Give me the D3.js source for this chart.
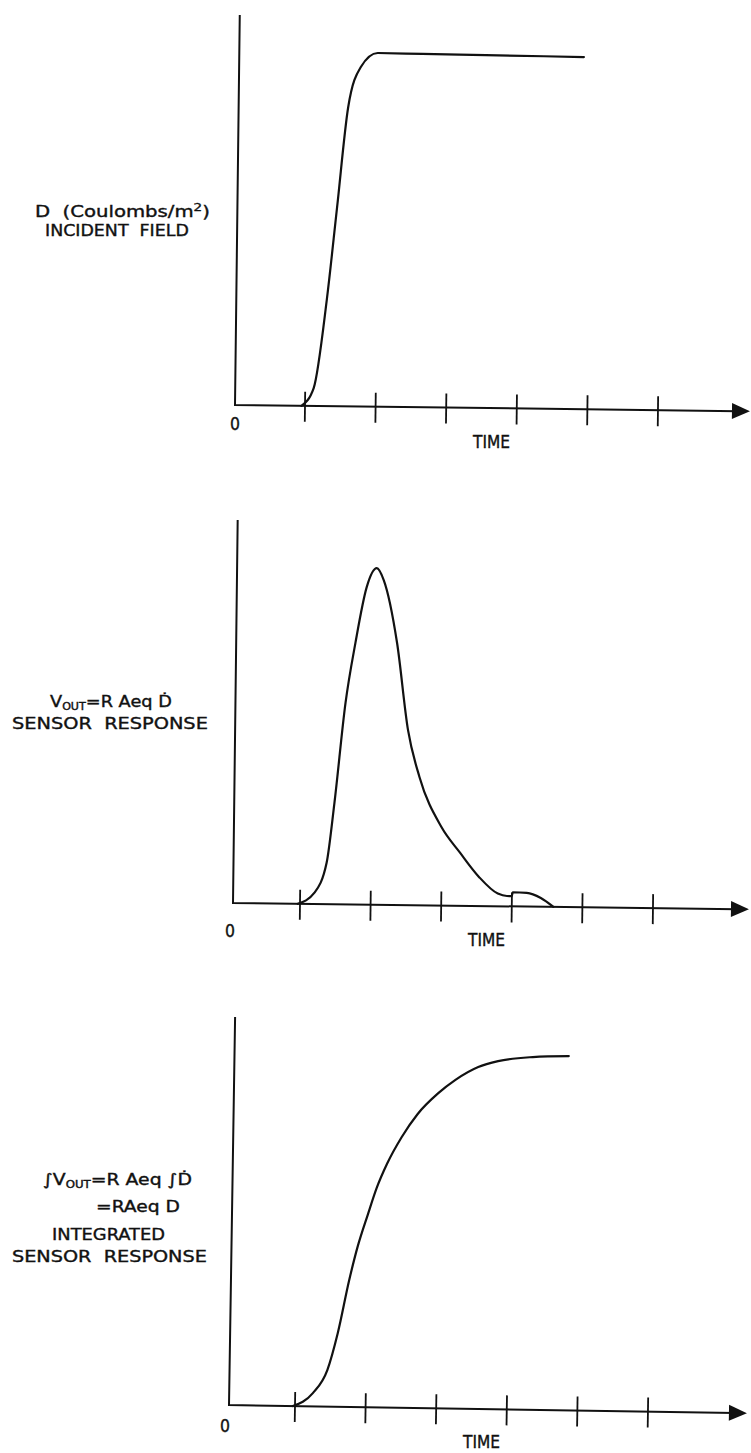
<!DOCTYPE html>
<html>
<head>
  <meta charset="utf-8"/>
  <title>Incident field and sensor response</title>
  <script src="https://d3js.org/d3.v7.min.js"></script>
  <style>
    html, body {
      margin: 0;
      padding: 0;
      background: #fff;
    }
    svg {
      display: block;
    }
    .lbl {
      font-family: "Liberation Sans Narrow", "DejaVu Sans Condensed", "Liberation Sans", sans-serif;
      fill: #111;
      stroke: #111;
      stroke-width: 0.35;
      white-space: pre;
    }
    .axis-line {
      stroke: #111;
      stroke-width: 2;
      fill: none;
    }
    .tick {
      stroke: #111;
      stroke-width: 1.8;
    }
    .curve {
      stroke: #111;
      stroke-width: 2.2;
      fill: none;
      stroke-linejoin: round;
      stroke-linecap: round;
    }
  </style>
</head>
<body>
  <div id="chart"></div>

  <script>
    // time axis ticks (unit steps, no numbers printed except the origin)
    const tickTimes = [1, 2, 3, 4, 5, 6];

    // [time, relative amplitude], 1 = top of the y axis
    const incidentField = [
      [0.95, 0], [1.12, 0.046], [1.29, 0.272], [1.42, 0.51], [1.56, 0.767],
      [1.73, 0.87], [1.97, 0.907], [2.6, 0.906], [3.5, 0.905], [4.89, 0.903]
    ];

    const sensorResponse = [
      [0.97, 0], [1.2, 0.029], [1.37, 0.108], [1.47, 0.264], [1.61, 0.526],
      [1.74, 0.683], [1.89, 0.829], [2.03, 0.879], [2.13, 0.848], [2.33, 0.684],
      [2.5, 0.457], [2.67, 0.335], [2.99, 0.205], [3.26, 0.138], [3.53, 0.076],
      [3.8, 0.033], [3.93, 0.027], [4.0, 0.027], [4.01, 0.037], [4.21, 0.036],
      [4.41, 0.023], [4.59, 0]
    ];

    const integratedResponse = [
      [0.97, 0], [1.25, 0.034], [1.45, 0.094], [1.59, 0.19], [1.74, 0.327],
      [1.85, 0.412], [1.99, 0.497], [2.11, 0.566], [2.25, 0.628], [2.45, 0.697],
      [2.67, 0.757], [2.96, 0.812], [3.2, 0.847], [3.52, 0.881], [3.8, 0.897],
      [4.29, 0.909], [4.8, 0.913]
    ];

    // label lines: [text, kind] parts, kind = sub / sup / plain
    const incidentLabel = [
      { x1: 35, x2: 210, y: 217, parts: [["D  (Coulombs/m"], ["2", "sup"], [")"]] },
      { x1: 45, x2: 189, y: 236, parts: [["INCIDENT  FIELD"]] }
    ];
    const responseLabel = [
      { x1: 50, x2: 172, y: 707, parts: [["V"], ["OUT", "sub"], ["=R Aeq Ḋ"]] },
      { x1: 12, x2: 208, y: 729, parts: [["SENSOR  RESPONSE"]] }
    ];
    const integratedLabel = [
      { x1: 43, x2: 192, y: 1185, parts: [["∫V"], ["OUT", "sub"], ["=R Aeq ∫Ḋ"]] },
      { x1: 96, x2: 180, y: 1212, parts: [["=RAeq D"]] },
      { x1: 52, x2: 165, y: 1240, parts: [["INTEGRATED"]] },
      { x1: 12, x2: 207, y: 1262, parts: [["SENSOR  RESPONSE"]] }
    ];

    const width = 751, height = 1453;

    const svg = d3.select("#chart")
      .append("svg")
      .attr("width", width)
      .attr("height", height);

    // layout of the three stacked plots (pixels)
    const panels = [
      { data: incidentField, label: incidentLabel, axisX: 235, y0: 405, top: 15,
        t1: 305, t6: 658, tip: 750, rot: 0.7, zero: [235, 430], time: [491, 448] },
      { data: sensorResponse, label: responseLabel, axisX: 233, y0: 903, top: 520,
        t1: 300, t6: 653, tip: 749, rot: 0.7, zero: [230, 937], time: [486, 946] },
      { data: integratedResponse, label: integratedLabel, axisX: 229, y0: 1405, top: 1017,
        t1: 295, t6: 648, tip: 747, rot: 0.9, zero: [225, 1432], time: [481, 1448] }
    ];

    // squeeze a text element horizontally into [x1, x2], baseline at y
    function fitText(t, x1, x2, y) {
      const bb = t.node().getBBox();
      const sx = (x2 - x1) / bb.width;
      t.attr("transform", `translate(${x1 - bb.x * sx}, ${y}) scale(${sx}, 1)`);
    }

    panels.forEach(p => {
      const x = d3.scaleLinear().domain([1, 6]).range([p.t1, p.t6]);
      const y = d3.scaleLinear().domain([0, 1]).range([p.y0, p.top]);

      // the original sketch is scanned slightly skewed
      const g = svg.append("g")
        .attr("transform", `rotate(${p.rot}, ${p.axisX}, ${p.y0})`);

      // axes
      g.append("path")
        .attr("class", "axis-line")
        .attr("d", `M${p.axisX},${p.top} L${p.axisX},${p.y0} L${p.tip - 12},${p.y0}`);

      g.append("path")
        .attr("fill", "#111")
        .attr("d", `M${p.tip},${p.y0} L${p.tip - 18},${p.y0 - 8} L${p.tip - 18},${p.y0 + 8} Z`);

      g.selectAll(".tick")
        .data(tickTimes)
        .enter().append("line")
        .attr("class", "tick")
        .attr("x1", d => x(d))
        .attr("x2", d => x(d))
        .attr("y1", p.y0 - 14)
        .attr("y2", p.y0 + 16);

      // the curve
      const line = d3.line()
        .x(d => x(d[0]))
        .y(d => y(d[1]))
        .curve(d3.curveMonotoneX);

      g.append("path")
        .datum(p.data)
        .attr("class", "curve")
        .attr("d", line);

      // origin and time labels
      const zero = svg.append("text")
        .attr("class", "lbl")
        .style("font-size", "18px")
        .text("0");
      fitText(zero, p.zero[0] - 5, p.zero[0] + 5, p.zero[1]);

      const time = svg.append("text")
        .attr("class", "lbl")
        .style("font-size", "17px")
        .text("TIME");
      fitText(time, p.time[0] - 19, p.time[0] + 19, p.time[1]);

      // y labels, squeezed to the width of the hand lettering
      p.label.forEach(l => {
        const t = svg.append("text")
          .attr("class", "lbl")
          .style("font-size", "16px");
        let shift = 0;
        l.parts.forEach(([s, kind]) => {
          let dy = 0, size = null;
          if (kind === "sub") { dy = 3; size = "10px"; }
          if (kind === "sup") { dy = -6; size = "11px"; }
          const ts = t.append("tspan").attr("dy", dy - shift).text(s);
          if (size) ts.style("font-size", size);
          shift = dy;
        });
        fitText(t, l.x1, l.x2, l.y);
      });
    });
  </script>
</body>
</html>
